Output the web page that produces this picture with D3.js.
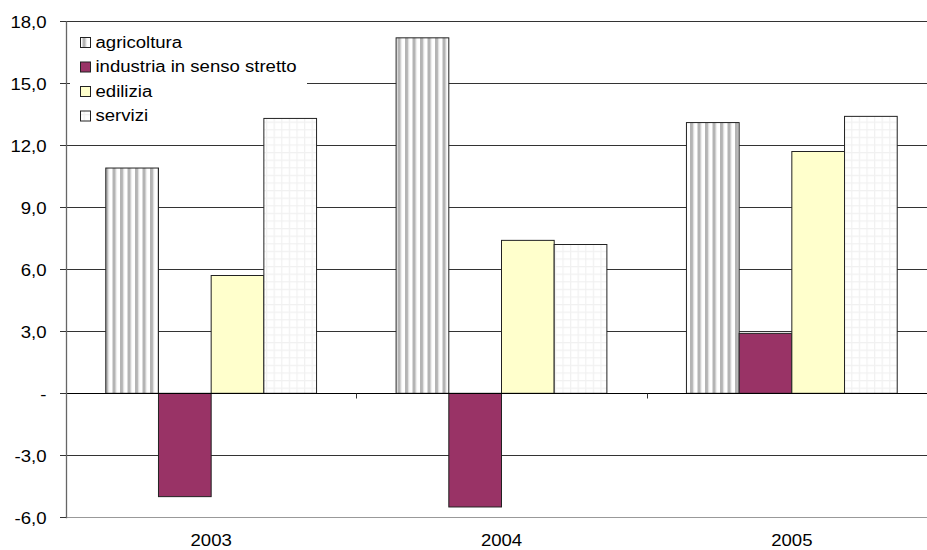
<!DOCTYPE html>
<html><head><meta charset="utf-8">
<script src="https://cdn.jsdelivr.net/npm/d3@7"></script>
<style>body{margin:0;background:#fff}svg{display:block;font-family:"Liberation Sans",Arial,sans-serif}</style>
</head><body><svg id="c" width="927" height="550"></svg>
<script>
const categories = ["2003", "2004", "2005"];
const seriesNames = ["agricoltura", "industria in senso stretto", "edilizia", "servizi"];
const agricoltura = [10.9, 17.2, 13.1];
const industria = [-5.0, -5.5, 2.9];
const edilizia = [5.7, 7.4, 11.7];
const servizi = [13.3, 7.2, 13.4];
const yTicks = [18, 15, 12, 9, 6, 3, 0, -3, -6];
const yTickLabels = ["18,0", "15,0", "12,0", "9,0", "6,0", "3,0", "-", "-3,0", "-6,0"];

const seriesValues = [agricoltura, industria, edilizia, servizi];
const svg = d3.select("#c");
const defs = svg.append("defs");

// patterns
const pStripe = defs.append("pattern").attr("id", "stripe").attr("patternUnits", "userSpaceOnUse")
  .attr("width", 7.5).attr("height", 10);
pStripe.append("rect").attr("width", 7.5).attr("height", 10).attr("fill", "#fff");
pStripe.append("rect").attr("x", 0).attr("width", 3).attr("height", 10).attr("fill", "#b4b4b4");
pStripe.append("rect").attr("x", 3).attr("width", 1).attr("height", 10).attr("fill", "#d6d6d6");
const pGrid = defs.append("pattern").attr("id", "grid").attr("patternUnits", "userSpaceOnUse")
  .attr("width", 7.6).attr("height", 7.6);
pGrid.append("rect").attr("width", 7.6).attr("height", 7.6).attr("fill", "#f1f1f1");
pGrid.append("rect").attr("x", 1.2).attr("y", 1.2).attr("width", 6.4).attr("height", 6.4).attr("fill", "#fff");

const fills = ["url(#stripe)", "#993366", "#ffffcc", "url(#grid)"];

const left = 66, right = 937;
const y = d3.scaleLinear().domain([-6, 18]).range([517.3, 21.3]);
const x0 = d3.scaleBand().domain(categories).range([left, right]).paddingInner(0).paddingOuter(0);
const x1 = d3.scaleBand().domain(seriesNames).range([0, x0.bandwidth()]).paddingInner(0).paddingOuter(0.755);
const sx = 1.16;
const font = 16;

// gridlines
svg.append("g").selectAll("line").data(yTicks.filter(v => v !== -6)).join("line")
  .attr("x1", left).attr("x2", right)
  .attr("y1", d => Math.round(y(d)) + 0.5).attr("y2", d => Math.round(y(d)) + 0.5)
  .attr("stroke", d => d === 0 ? "#000" : "#333").attr("stroke-width", 1);

// bottom border line
svg.append("line").attr("x1", left).attr("x2", right)
  .attr("y1", Math.round(y(-6)) + 0.5).attr("y2", Math.round(y(-6)) + 0.5)
  .attr("stroke", "#999").attr("stroke-width", 1.2);

// legend background (under bars)
svg.append("rect").attr("x", 70).attr("y", 26).attr("width", 237).attr("height", 100).attr("fill", "#fff");

// bars
const g = svg.append("g");
categories.forEach((c, ci) => {
  seriesNames.forEach((s, si) => {
    const v = seriesValues[si][ci];
    g.append("rect")
      .attr("x", x0(c) + x1(s))
      .attr("y", y(Math.max(0, v)))
      .attr("width", x1.bandwidth())
      .attr("height", Math.abs(y(v) - y(0)))
      .attr("fill", fills[si])
      .attr("stroke", "#222").attr("stroke-width", 1);
  });
});

// zero line on top
const y0 = Math.round(y(0)) + 0.5;
svg.append("line").attr("x1", left).attr("x2", right).attr("y1", y0).attr("y2", y0).attr("stroke", "#000");
// category ticks on zero line
svg.append("g").selectAll("line").data(categories.slice(1)).join("line")
  .attr("x1", d => Math.round(x0(d)) + 0.5).attr("x2", d => Math.round(x0(d)) + 0.5)
  .attr("y1", y0).attr("y2", y0 + 5).attr("stroke", "#333");

// left axis
svg.append("line").attr("x1", left + 0.5).attr("x2", left + 0.5)
  .attr("y1", y(18)).attr("y2", y(-6) + 1).attr("stroke", "#666").attr("stroke-width", 1.3);
svg.append("g").selectAll("line").data(yTicks).join("line")
  .attr("x1", left - 6).attr("x2", left)
  .attr("y1", d => Math.round(y(d)) + 0.5).attr("y2", d => Math.round(y(d)) + 0.5)
  .attr("stroke", "#333");
svg.append("g").selectAll("text").data(yTicks).join("text")
  .attr("transform", d => `translate(46.5,${y(d) + 6.5}) scale(${sx},1)`)
  .attr("text-anchor", "end").attr("font-size", font).attr("fill", "#000")
  .text((d, i) => yTickLabels[i]);

// x labels
svg.append("g").selectAll("text").data(categories).join("text")
  .attr("transform", d => `translate(${x0(d) + x0.bandwidth() / 2},545.5) scale(${sx},1)`)
  .attr("text-anchor", "middle").attr("font-size", font).attr("fill", "#000")
  .text(d => d);

// legend
const lg = svg.append("g");
seriesNames.forEach((s, i) => {
  const ty = 37 + i * 24.5;
  lg.append("rect").attr("x", 80.5).attr("y", ty + 0.5).attr("width", 10).attr("height", 10)
    .attr("fill", fills[i]).attr("stroke", "#222").attr("stroke-width", 1);
  lg.append("text").attr("transform", `translate(95.5,${ty + 10.5}) scale(${sx},1)`)
    .attr("font-size", font).attr("fill", "#000").text(s);
});
</script></body></html>
